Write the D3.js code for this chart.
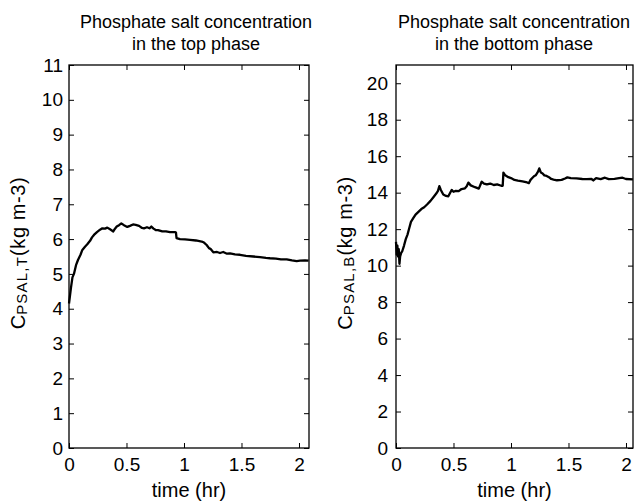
<!DOCTYPE html>
<html>
<head>
<meta charset="utf-8">
<script src="https://cdn.jsdelivr.net/npm/d3@7"></script>
<style>
  body { margin: 0; background: #fff; }
  text { font-family: "Liberation Sans", Arial, sans-serif; fill: #000; }
</style>
</head>
<body>
<script>
// top phase, time (hr) and concentration (kg m-3)
var topTime = [0.000, 0.017, 0.030, 0.043, 0.061, 0.078, 0.100, 0.116, 0.139, 0.159, 0.183, 0.200, 0.217, 0.243, 0.270,
  0.290, 0.313, 0.333, 0.357, 0.385, 0.400, 0.415, 0.435, 0.455, 0.478, 0.507, 0.530, 0.557, 0.580, 0.609, 0.635,
  0.652, 0.678, 0.700, 0.716, 0.735, 0.754, 0.774, 0.811, 0.843, 0.878, 0.922, 0.930, 0.935, 0.965, 1.009, 1.052,
  1.104, 1.154, 1.174, 1.197, 1.217, 1.230, 1.255, 1.287, 1.313, 1.341, 1.374, 1.400, 1.443, 1.487, 1.539, 1.603,
  1.661, 1.713, 1.748, 1.800, 1.843, 1.893, 1.939, 1.980, 2.009, 2.052, 2.083];
var topConc = [4.15, 4.60, 4.90, 5.00, 5.25, 5.40, 5.55, 5.69, 5.78, 5.85, 5.95, 6.05, 6.12, 6.20, 6.27,
  6.31, 6.30, 6.33, 6.28, 6.22, 6.30, 6.36, 6.40, 6.45, 6.40, 6.35, 6.38, 6.42, 6.41, 6.38, 6.32,
  6.31, 6.34, 6.31, 6.36, 6.30, 6.26, 6.26, 6.22, 6.22, 6.20, 6.20, 6.19, 6.03, 6.00, 5.99, 5.98,
  5.96, 5.93, 5.90, 5.83, 5.74, 5.72, 5.62, 5.63, 5.60, 5.63, 5.58, 5.59, 5.56, 5.55, 5.52, 5.50,
  5.48, 5.46, 5.45, 5.44, 5.42, 5.42, 5.39, 5.37, 5.38, 5.39, 5.38];

// bottom phase
var botTime = [0.000, 0.006, 0.012, 0.018, 0.024, 0.030, 0.036, 0.045, 0.055, 0.070, 0.085, 0.100, 0.115, 0.130,
  0.150, 0.170, 0.195, 0.220, 0.245, 0.270, 0.300, 0.325, 0.350, 0.365, 0.377, 0.390, 0.411, 0.435, 0.455, 0.484,
  0.500, 0.520, 0.545, 0.570, 0.600, 0.615, 0.629, 0.650, 0.687, 0.720, 0.745, 0.765, 0.790, 0.820, 0.850, 0.880,
  0.915, 0.928, 0.934, 0.950, 0.977, 1.000, 1.030, 1.060, 1.100, 1.140, 1.155, 1.170, 1.185, 1.200, 1.215, 1.235,
  1.246, 1.260, 1.275, 1.290, 1.310, 1.330, 1.350, 1.370, 1.400, 1.440, 1.470, 1.490, 1.520, 1.570, 1.620, 1.660,
  1.700, 1.716, 1.740, 1.780, 1.817, 1.850, 1.900, 1.940, 1.970, 2.000, 2.060];
var botConc = [11.3, 10.6, 11.1, 10.5, 10.9, 10.1, 10.5, 10.7, 10.8, 11.1, 11.45, 11.7, 12.05, 12.4,
  12.6, 12.8, 12.95, 13.1, 13.2, 13.35, 13.55, 13.75, 13.95, 14.1, 14.36, 14.15, 13.9, 13.82, 13.8, 14.15,
  14.05, 14.1, 14.08, 14.2, 14.24, 14.35, 14.55, 14.4, 14.3, 14.22, 14.6, 14.5, 14.45, 14.5, 14.42, 14.45,
  14.38, 14.38, 15.1, 14.95, 14.85, 14.8, 14.7, 14.66, 14.62, 14.56, 14.52, 14.7, 14.8, 14.9, 14.95, 15.15,
  15.33, 15.1, 15.05, 14.95, 14.92, 14.85, 14.75, 14.72, 14.68, 14.7, 14.78, 14.84, 14.8, 14.78, 14.75, 14.74,
  14.75, 14.67, 14.8, 14.74, 14.82, 14.74, 14.76, 14.8, 14.82, 14.75, 14.73];

var xTicks = [0, 0.5, 1, 1.5, 2];
var topYTicks = [0, 1, 2, 3, 4, 5, 6, 7, 8, 9, 10, 11];
var botYTicks = [0, 2, 4, 6, 8, 10, 12, 14, 16, 18, 20];

var svg = d3.select("body").append("svg")
    .attr("width", 635)
    .attr("height", 502);

function panel(opt) {
  var x = d3.scaleLinear().domain([0, opt.xMax]).range([opt.left, opt.right]);
  var y = d3.scaleLinear().domain([0, opt.yMax]).range([448, 65]);
  var g = svg.append("g");

  // inward ticks on all four sides
  g.append("g").attr("transform", "translate(0,448)")
      .call(d3.axisBottom(x).tickValues(xTicks).tickFormat(d3.format("")).tickSizeInner(-5).tickSizeOuter(0).tickPadding(10));
  g.append("g").attr("transform", "translate(0,65)")
      .call(d3.axisTop(x).tickValues(xTicks).tickFormat("").tickSizeInner(-5).tickSizeOuter(0));
  g.append("g").attr("transform", "translate(" + opt.left + ",0)")
      .call(d3.axisLeft(y).tickValues(opt.yTicks).tickFormat(d3.format("")).tickSizeInner(-5).tickSizeOuter(0).tickPadding(opt.pad));
  g.append("g").attr("transform", "translate(" + opt.right + ",0)")
      .call(d3.axisRight(y).tickValues(opt.yTicks).tickFormat("").tickSizeInner(-5).tickSizeOuter(0));

  g.selectAll(".domain").remove();
  g.selectAll(".tick line").attr("stroke", "#000");
  g.selectAll(".tick text").attr("font-size", "19px").attr("font-family", "Liberation Sans, Arial, sans-serif");

  g.append("rect")
    .attr("x", opt.left).attr("y", 65)
    .attr("width", opt.right - opt.left).attr("height", 448 - 65)
    .attr("fill", "none").attr("stroke", "#000").attr("stroke-width", 1.3);

  var pts = opt.t.map(function(d, i) { return [d, opt.v[i]]; });
  var line = d3.line().x(function(d) { return x(d[0]); }).y(function(d) { return y(d[1]); });
  g.append("path")
    .attr("d", line(pts))
    .attr("fill", "none")
    .attr("stroke", "#000")
    .attr("stroke-width", 2.3)
    .attr("stroke-linejoin", "round");

  // title, two lines
  var title = g.append("text")
    .attr("text-anchor", "middle")
    .attr("font-size", "18px");
  title.append("tspan").attr("x", opt.titleX).attr("y", 28).text("Phosphate salt concentration");
  title.append("tspan").attr("x", opt.titleX).attr("y", 50).text(opt.title2);

  g.append("text")
    .attr("x", (opt.left + opt.right) / 2)
    .attr("y", 497)
    .attr("text-anchor", "middle")
    .attr("font-size", "20px")
    .text("time (hr)");

  var yl = g.append("text")
    .attr("transform", "translate(" + (opt.left - 44) + ",253) rotate(-90)")
    .attr("text-anchor", "middle")
    .attr("font-size", "20px");
  yl.append("tspan").text("C");
  yl.append("tspan").attr("font-size", "15px").attr("letter-spacing", "1.2px").attr("dy", 2).text(opt.sub);
  yl.append("tspan").attr("dy", -2).attr("letter-spacing", "0.6px").text("(kg m-3)");
}

panel({ left: 69, right: 309, xMax: 2.087, yMax: 11, yTicks: topYTicks, pad: 6,
  t: topTime, v: topConc, titleX: 196, title2: "in the top phase", sub: "PSAL,T" });
panel({ left: 396, right: 633, xMax: 2.061, yMax: 21, yTicks: botYTicks, pad: 8,
  t: botTime, v: botConc, titleX: 514, title2: "in the bottom phase", sub: "PSAL,B" });
</script>
</body>
</html>
